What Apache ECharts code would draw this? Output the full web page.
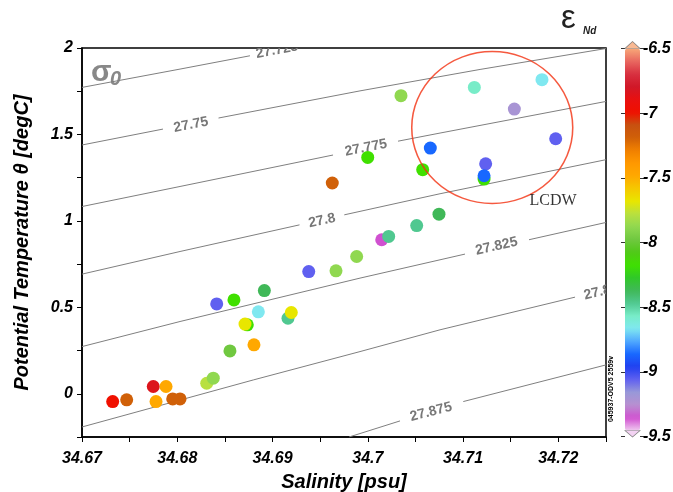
<!DOCTYPE html>
<html><head><meta charset="utf-8">
<script src="https://cdn.jsdelivr.net/npm/echarts@6/dist/echarts.min.js"></script>
<style>html,body{margin:0;padding:0;background:#fff}#c{width:673px;height:492px}</style>
</head><body><div id="c"></div>
<script>
// ---- data ----
const salinity = [34.67322,34.67469,34.67748,34.67882,34.67777,34.67952,34.68029,34.68309,34.68378,34.68553,
  34.68805,34.68414,34.68595,34.68735,34.68711,34.68851,34.68914,34.69162,34.69197,34.69380,
  34.69666,34.69883,34.70146,34.70219,34.70513,34.70747,34.69627,34.69999,34.70348,34.71118,
  34.71828,34.71538,34.71972,34.70656,34.70576,34.71237,34.71220,34.71220];
const theta = [-0.045,-0.035,0.042,0.042,-0.045,-0.030,-0.030,0.061,0.090,0.248,
  0.283,0.520,0.543,0.399,0.403,0.474,0.597,0.437,0.470,0.707,
  0.711,0.794,0.891,0.910,0.973,1.039,1.219,1.367,1.724,1.772,
  1.817,1.647,1.475,1.421,1.296,1.330,1.242,1.261];
const epsNd = [-7.0,-7.2,-6.85,-7.5,-7.5,-7.2,-7.2,-7.8,-7.9,-8.0,
  -7.5,-9.1,-8.2,-8.2,-7.7,-8.7,-8.4,-8.5,-7.7,-9.1,
  -7.9,-7.9,-9.4,-8.5,-8.5,-8.4,-7.2,-8.2,-7.9,-8.6,
  -8.7,-9.25,-9.1,-8.9,-8.2,-9.1,-8.2,-8.9];

// isopycnals (sigma0), split where the label sits
const isoLevels = ['27.725','27.75','27.775','27.8','27.825','27.85','27.875'];
const iso27725 = [[[34.67,1.772],[34.68029,1.878],[34.68763,1.955]]];
const iso27750 = [[[34.67,1.439],[34.6785,1.531]],[[34.68433,1.595],[34.69918,1.752],[34.71178,1.876],[34.725,1.997]]];
const iso27775 = [[[34.67,1.083],[34.68029,1.199],[34.69635,1.381]],[[34.70317,1.461],[34.70758,1.508],[34.725,1.691]]];
const iso27800 = [[[34.67,0.692],[34.68029,0.823],[34.69283,0.977]],[[34.69753,1.035],[34.70758,1.157],[34.725,1.354]]];
const iso27825 = [[[34.67,0.273],[34.68029,0.418],[34.69918,0.669],[34.7102,0.808]],[[34.71692,0.891],[34.725,0.991]]];
const iso27850 = [[[34.67,-0.192],[34.68798,0.080],[34.69918,0.244],[34.70758,0.370],[34.72175,0.559]]];
const iso27875 = [[[34.69803,-0.25],[34.70338,-0.157]],[[34.71002,-0.045],[34.725,0.167]]];
const isoLabelPos = [[34.69047,1.987],[34.68144,1.556],[34.69981,1.423],[34.69519,1.001],[34.71351,0.853],[34.72448,0.590],[34.70663,-0.105]];
const isoLabelAngle = [10.5,11,11,12,12.5,13.5,14.5];

// LCDW annotation
const lcdwCircle = [34.71306,1.540];
const lcdwLabel = [34.71944,1.1175];

// colour scale, -9.5 .. -6.5 in steps of 0.1
const cbarTicks = [-9.5,-9,-8.5,-8,-7.5,-7,-6.5];
const cmap = ['#f0c8f0','#d050d0','#b890d0','#9898d8','#6060f0','#2040f0','#1868ff','#50a8ff','#80e8f0','#78ecc8',
  '#50c890','#40b858','#30c828','#40e000','#50c818','#70c840','#90d850','#b8e040','#e8e600','#f5c800',
  '#ffa800','#ff9800','#f08000','#d06008','#c85010','#f01000','#e81010','#d01828','#d83040','#e86860','#f8a878'];

// ---- chart ----
const F = '"Liberation Sans", Arial, sans-serif';
const chart = echarts.init(document.getElementById('c'), null, {renderer:'canvas'});
const pts = salinity.map((s,i)=>[s, theta[i], epsNd[i]]);

const series = [];
series.push({type:'scatter', name:'pts', xAxisIndex:0, yAxisIndex:0, data:pts, symbolSize:13, z:4,
  itemStyle:{opacity:1}});
const isoAll = [iso27725, iso27750, iso27775, iso27800, iso27825, iso27850, iso27875];
isoAll.forEach(segs => segs.forEach(seg => series.push({type:'line', xAxisIndex:0, yAxisIndex:0, data:seg,
  showSymbol:false, symbol:'none', z:1, silent:true, clip:true,
  lineStyle:{color:'#7f7f7f', width:1}})));
series.push({type:'custom', xAxisIndex:0, yAxisIndex:0, data:isoLabelPos, clip:true, z:2, silent:true,
  renderItem:(params, api)=>{
    const i = params.dataIndex;
    const p = api.coord([api.value(0), api.value(1)]);
    return {type:'text', x:p[0], y:p[1], rotation: isoLabelAngle[i]*Math.PI/180,
      style:{text: isoLevels[i], fill:'#777', font:'bold 14px '+F, align:'center', verticalAlign:'middle'}};
  }});
series.push({type:'scatter', xAxisIndex:0, yAxisIndex:0, data:[lcdwCircle], symbol:'circle', symbolSize:[161,152], z:5, silent:true,
  itemStyle:{color:'rgba(0,0,0,0)', borderColor:'#f2300f', borderWidth:1.5}});
series.push({type:'scatter', xAxisIndex:0, yAxisIndex:0, data:[lcdwLabel], symbolSize:0, z:5, silent:true,
  label:{show:true, position:'inside', formatter:'LCDW', color:'#000', fontSize:16, fontFamily:'"Liberation Serif", "Times New Roman", serif'}});
// colour bar end caps
series.push({type:'scatter', xAxisIndex:1, yAxisIndex:1, data:[[0,-6.5]], symbol:'triangle', symbolSize:[15,7], symbolOffset:[0,-3.5], z:6, silent:true,
  itemStyle:{color:cmap[cmap.length-1], borderColor:'#666', borderWidth:0.8}});
series.push({type:'scatter', xAxisIndex:1, yAxisIndex:1, data:[[0,-9.5]], symbol:'triangle', symbolRotate:180, symbolSize:[15,6.5], symbolOffset:[0,-2.75], z:6, silent:true,
  itemStyle:{color:cmap[0], borderColor:'#666', borderWidth:0.8}});

const tickFont = {fontFamily:F, fontWeight:'bold', fontStyle:'italic', fontSize:16, color:'#000'};

chart.setOption({
  animation:false,
  backgroundColor:'#fff',
  grid:[
    {left:82, top:48, width:524, height:389, show:true, borderColor:'#000', borderWidth:1.5, backgroundColor:'transparent', outerBoundsMode:'none', containLabel:false},
    {left:625, top:48.5, width:15, height:388, show:false, outerBoundsMode:'none', containLabel:false}
  ],
  xAxis:[
    {type:'value', gridIndex:0, min:34.67, max:34.725, interval:0.005,
      name:'Salinity [psu]', nameLocation:'middle', nameGap:35,
      nameTextStyle:{fontFamily:F, fontWeight:'bold', fontStyle:'italic', fontSize:20, color:'#000'},
      axisLine:{show:true, onZero:false, lineStyle:{color:'#000', width:1.5}},
      axisTick:{show:true, inside:false, length:5, lineStyle:{color:'#000', width:1}},
      splitLine:{show:false},
      axisLabel:Object.assign({margin:14, showMinLabel:true, showMaxLabel:true, formatter:v=>{const r=Math.round(v*1000); return r%10===0 ? String(r/1000) : '';}}, tickFont)},
    {type:'value', gridIndex:1, min:-1, max:1, show:false}
  ],
  yAxis:[
    {type:'value', gridIndex:0, min:-0.25, max:2, interval:0.25,
      name:'Potential Temperature θ [degC]', nameLocation:'middle', nameGap:50, nameRotate:90,
      nameTextStyle:{fontFamily:F, fontWeight:'bold', fontStyle:'italic', fontSize:20, color:'#000'},
      axisLine:{show:true, onZero:false, lineStyle:{color:'#000', width:1.5}},
      axisTick:{show:true, inside:false, length:5, lineStyle:{color:'#000', width:1}},
      splitLine:{show:false},
      axisLabel:Object.assign({margin:9, showMinLabel:true, showMaxLabel:true, formatter:v=>{const r=Math.round(v*100); return r%50===0 ? String(r/100) : '';}}, tickFont)},
    {type:'value', gridIndex:1, min:-9.5, max:-6.5, interval:0.5, position:'right',
      axisLine:{show:false, onZero:false}, splitLine:{show:false},
      axisTick:{show:true, length:4, lineStyle:{color:'#333', width:1}},
      axisLabel:Object.assign({margin:3, showMinLabel:true, showMaxLabel:true, formatter:v=>String(Math.round(v*10)/10)}, tickFont)},
    {type:'value', gridIndex:1, min:-9.5, max:-6.5, interval:0.5, position:'left',
      axisLine:{show:false, onZero:false}, splitLine:{show:false}, axisLabel:{show:false},
      axisTick:{show:true, length:4, lineStyle:{color:'#333', width:1}}}
  ],
  visualMap:[{type:'continuous', min:-9.5, max:-6.5, dimension:2, seriesIndex:0,
    inRange:{color:cmap}, calculable:false, hoverLink:false, realtime:false,
    orient:'vertical', left:625, top:48.5, itemWidth:15, itemHeight:382, padding:0,
    textStyle:{color:'transparent'}, text:null, show:true}],
  graphic:[
    {type:'text', left:91, top:58, silent:true, style:{text:'σ', font:'bold 30px '+F, fill:'#888'}},
    {type:'text', left:110, top:69, silent:true, style:{text:'0', font:'italic bold 20px '+F, fill:'#888'}},
    {type:'text', left:561, top:2, silent:true, style:{text:'ε', font:'33px '+F, fill:'#222'}},
    {type:'text', left:583, top:26, silent:true, style:{text:'Nd', font:'italic bold 10px '+F, fill:'#222'}},
    {type:'text', x:611, y:389, rotation:Math.PI/2, silent:true, style:{text:'045937-ODV5 2559v', font:'bold 7px '+F, fill:'#000', align:'center', verticalAlign:'middle'}}
  ],
  series:series
});
</script></body></html>
